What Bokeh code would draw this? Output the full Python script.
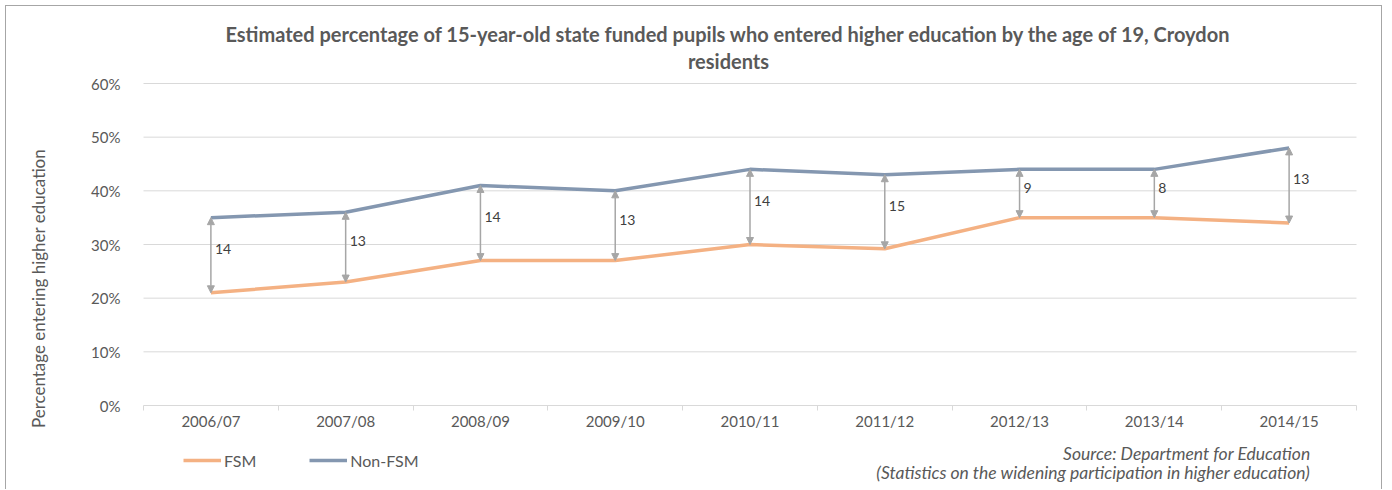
from bokeh.plotting import figure
from bokeh.models import (Range1d, FixedTicker, PrintfTickFormatter, Label, Legend, LegendItem,
                          Arrow, NormalHead, ColumnDataSource, LinearAxis)
from bokeh.core.properties import value
from bokeh.embed import file_html
from bokeh.resources import INLINE

# ---- data ----
years = ["2006/07", "2007/08", "2008/09", "2009/10", "2010/11", "2011/12", "2012/13", "2013/14", "2014/15"]
fsm = [21, 23, 27, 27, 30, 29.2, 35, 35, 34]
non_fsm = [35, 36, 41, 40, 44, 43, 44, 44, 48]
gap_labels = ["14", "13", "14", "13", "14", "15", "9", "8", "13"]
y_ticks = [0, 10, 20, 30, 40, 50, 60]

FONT = "Lato"
GREY_TXT = "#595959"
N = len(years)
xs = [i + 0.5 for i in range(N)]

# canvas geometry (px)
W, H = 1377, 484
FL, FR, FT, FB = 137, 1350, 77, 399          # plot-area edges inside the canvas
xpx = (FR - FL) / N
ypx = (FB - FT) / 60.0

p = figure(width=W, height=H, output_backend="svg", toolbar_location=None,
           x_range=Range1d(-FL / xpx, N + (W - FR) / xpx),
           y_range=Range1d(-(H - FB) / ypx, 60 + FT / ypx),
           x_axis_location=None, y_axis_location=None,
           min_border=0, min_border_left=0, min_border_right=0,
           min_border_top=0, min_border_bottom=0)
p.styles = {"margin": "5px 0 0 5px", "border-top": "1px solid #a6a6a6",
            "border-left": "1px solid #a6a6a6", "border-right": "1px solid #a6a6a6"}
p.outline_line_color = None
p.grid.visible = False

# gridlines drawn from tick values across the category span
p.segment(x0=0, x1=N, y0=y_ticks[1:], y1=y_ticks[1:], line_color="#d9d9d9", line_width=1)

# x axis
xaxis = LinearAxis(fixed_location=0, bounds=(0, N))
xaxis.ticker = FixedTicker(ticks=xs, minor_ticks=list(range(N + 1)))
xaxis.major_label_overrides = {x: y for x, y in zip(xs, years)}
xaxis.major_tick_line_color = None
xaxis.major_tick_out = 0
xaxis.major_tick_in = 0
xaxis.minor_tick_line_color = "#d9d9d9"
xaxis.minor_tick_in = 0
xaxis.minor_tick_out = 5
xaxis.axis_line_color = "#d9d9d9"
xaxis.major_label_text_font = FONT
xaxis.major_label_text_font_size = "15px"
xaxis.major_label_text_color = GREY_TXT
xaxis.major_label_standoff = 1
p.add_layout(xaxis, "below")

# y axis
yaxis = LinearAxis(fixed_location=0, bounds=(0, 60))
yaxis.ticker = FixedTicker(ticks=y_ticks)
yaxis.formatter = PrintfTickFormatter(format="%d%%")
yaxis.axis_line_color = None
yaxis.major_tick_line_color = None
yaxis.minor_tick_line_color = None
yaxis.major_label_text_font = FONT
yaxis.major_label_text_font_size = "15px"
yaxis.major_label_text_color = GREY_TXT
yaxis.major_label_standoff = 17
p.add_layout(yaxis, "left")

# lines
r_fsm = p.line(xs, fsm, line_color="#f4b183", line_width=3.5)
r_non = p.line(xs, non_fsm, line_color="#8497b0", line_width=3.5)

# gap arrows
src = ColumnDataSource(dict(x=xs, y0=non_fsm, y1=fsm,
                            ym=[(a + b) / 2 for a, b in zip(non_fsm, fsm)], lab=gap_labels))
head = dict(size=7, line_color="#a6a6a6", fill_color="#a6a6a6", line_width=1)
p.add_layout(Arrow(x_start="x", y_start="y0", x_end="x", y_end="y1", source=src,
                   start=NormalHead(**head), end=NormalHead(**head),
                   line_color="#a6a6a6", line_width=1.5))
p.text(x="x", y="ym", text="lab", source=src, x_offset=4, y_offset=-6,
       text_font=value(FONT), text_font_size="14px", text_color="#404040",
       text_baseline="middle", text_align="left")

# title
for txt, yy in [("Estimated percentage of 15-year-old state funded pupils who entered higher education by the age of 19, Croydon", H - 27),
                ("residents", H - 54)]:
    p.add_layout(Label(x=722, y=yy, x_units="screen", y_units="screen", text=txt,
                       text_font=FONT, text_font_size="20px", text_font_style="bold",
                       text_color=GREY_TXT, text_align="center", text_baseline="middle"))

# y axis title
p.add_layout(Label(x=32, y=H - 282, x_units="screen", y_units="screen",
                   text="Percentage entering higher education", angle=90, angle_units="deg",
                   text_font=FONT, text_font_size="17px", text_color=GREY_TXT,
                   text_align="center", text_baseline="middle"))

# source
for txt, yy in [("Source: Department for Education", H - 447),
                ("(Statistics on the widening participation in higher education)", H - 466)]:
    p.add_layout(Label(x=1304, y=yy, x_units="screen", y_units="screen", text=txt,
                       text_font=FONT, text_font_size="17.5px", text_font_style="italic",
                       text_color=GREY_TXT, text_align="right", text_baseline="middle"))

# legend
legend = Legend(items=[LegendItem(label="FSM", renderers=[r_fsm]),
                       LegendItem(label="Non-FSM", renderers=[r_non])],
                orientation="horizontal", location=(177, H - 454 - 10),
                glyph_width=38, glyph_height=20, label_height=20, label_standoff=3, spacing=53,
                padding=0, margin=0,
                border_line_color=None, background_fill_alpha=0,
                label_text_font=FONT, label_text_font_size="16px", label_text_color=GREY_TXT)
p.add_layout(legend, "center")

open("out.html", "w").write(file_html(p, INLINE))
